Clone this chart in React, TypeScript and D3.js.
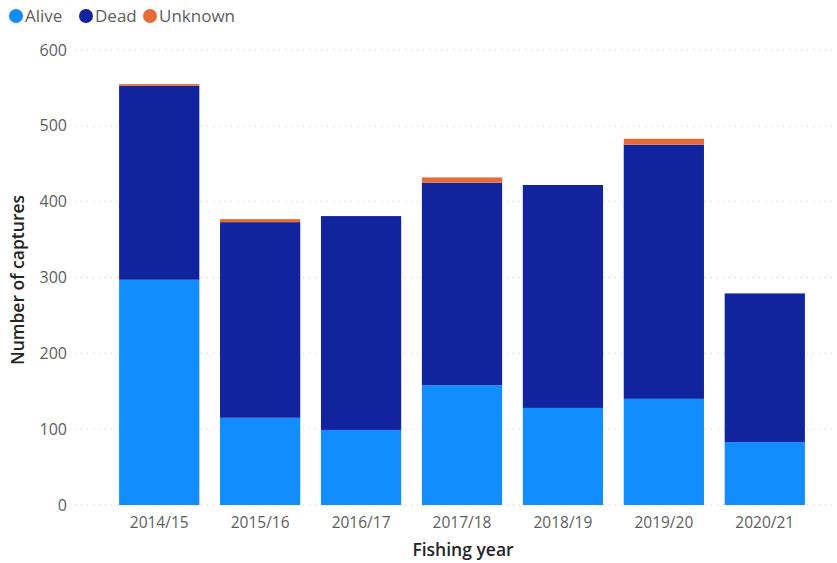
import React from "react";
import * as d3 from "d3";

const categories = ["2014/15", "2015/16", "2016/17", "2017/18", "2018/19", "2019/20", "2020/21"];
const alive = [297, 115, 99, 158, 128, 140, 83];
const dead = [256, 258, 282, 267, 294, 335, 196];
const unknown = [2, 4, 0, 7, 0, 8, 0];
const seriesNames = ["Alive", "Dead", "Unknown"];
const seriesColors = ["#118DFF", "#12239E", "#E66C37"];
const yTicks = [0, 100, 200, 300, 400, 500, 600];

const W = 837;
const H = 563;
const FONT = "'Open Sans', 'Noto Sans', sans-serif";

export default function App() {
  const rows = categories.map((c, i) => ({ cat: c, Alive: alive[i], Dead: dead[i], Unknown: unknown[i] }));
  const stack = d3.stack<any>().keys(seriesNames)(rows);
  const x = d3.scaleBand().domain(categories).range([109, 815]).paddingInner(0.205).paddingOuter(0.1);
  const y = d3.scaleLinear().domain([0, 600]).range([505, 50]);
  const legendCx = [16, 86, 150];

  return (
    <svg width={W} height={H} style={{ position: "absolute", left: 0, top: 0, background: "#fff" }}>
      {/* legend */}
      {seriesNames.map((s, i) => {
        const lx = legendCx[i];
        return (
          <g key={s}>
            <circle cx={lx} cy={16} r={7} fill={seriesColors[i]} />
            <text x={lx + 9} y={22} fontFamily={FONT} fontSize={17} fill="#605E5C">{s}</text>
          </g>
        );
      })}
      {/* gridlines */}
      {yTicks.map((t) => (
        <line key={t} x1={75} x2={837} y1={y(t)} y2={y(t)} stroke="#C8C6C4" strokeWidth={1} strokeDasharray="1,5" />
      ))}
      {/* y tick labels */}
      {yTicks.map((t) => (
        <text key={t} x={67} y={y(t) + 5.5} textAnchor="end" fontFamily={FONT} fontSize={16} fill="#605E5C">{t}</text>
      ))}
      {/* bars */}
      {stack.map((layer, si) => (
        <g key={seriesNames[si]} fill={seriesColors[si]}>
          {layer.map((d: any, i: number) => {
            const h = y(d[0]) - y(d[1]);
            if (h <= 0) return null;
            return <rect key={i} x={x(categories[i])} y={y(d[1])} width={x.bandwidth()} height={h} />;
          })}
        </g>
      ))}
      {/* x tick labels */}
      {categories.map((c) => (
        <text key={c} x={(x(c) as number) + x.bandwidth() / 2} y={528} textAnchor="middle" fontFamily={FONT} fontSize={15.5} fill="#605E5C">{c}</text>
      ))}
      {/* axis titles */}
      <text x={463} y={556} textAnchor="middle" fontFamily={FONT} fontSize={17.5} fontWeight={600} fill="#252423">Fishing year</text>
      <text transform="translate(24,280) rotate(-90)" textAnchor="middle" fontFamily={FONT} fontSize={17.5} fontWeight={600} fill="#252423">Number of captures</text>
    </svg>
  );
}
